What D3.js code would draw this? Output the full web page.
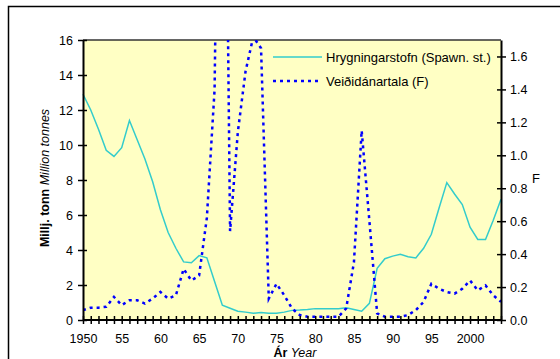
<!DOCTYPE html>
<html>
<head>
<meta charset="utf-8">
<script src="https://cdn.jsdelivr.net/npm/d3@7"></script>
<style>
  html, body { margin: 0; padding: 0; background: #ffffff; }
  svg { display: block; font-family: "Liberation Sans", Arial, sans-serif; }
</style>
</head>
<body>
<svg id="chart" width="560" height="359"></svg>
<script>
// Spawning stock (million tonnes) and fishing mortality F, 1950–2004
const years = d3.range(1950, 2005);
const spawningStock = [
  12.9, 12.0, 10.9, 9.7, 9.35, 9.85, 11.4, 10.3, 9.2, 7.9,
  6.3, 5.0, 4.1, 3.32, 3.27, 3.68, 3.55, 2.2, 0.85, 0.67,
  0.5, 0.45, 0.38, 0.43, 0.38, 0.38, 0.45, 0.55, 0.57, 0.6,
  0.65, 0.65, 0.65, 0.65, 0.7, 0.6, 0.5, 0.95, 2.95, 3.5,
  3.65, 3.75, 3.62, 3.55, 4.1, 4.9, 6.4, 7.85, 7.2, 6.6,
  5.3, 4.6, 4.6, 5.7, 6.9
];
const fishingMortality = [
  0.06, 0.075, 0.075, 0.08, 0.14, 0.09, 0.12, 0.12, 0.10, 0.13,
  0.17, 0.13, 0.15, 0.31, 0.24, 0.27, 0.62, 1.40, 5.0, 0.54,
  1.14, 1.51, 1.72, 1.65, 0.13, 0.22, 0.15, 0.07, 0.03, 0.02,
  0.02, 0.02, 0.02, 0.02, 0.07, 0.35, 1.15, 0.60, 0.04, 0.02,
  0.02, 0.02, 0.03, 0.06, 0.11, 0.22, 0.19, 0.17, 0.16, 0.19,
  0.24, 0.18, 0.21, 0.15, 0.11
];
const xTickYears = [1950, 1955, 1960, 1965, 1970, 1975, 1980, 1985, 1990, 1995, 2000];
const xTickLabels = ["1950", "55", "60", "65", "70", "75", "80", "85", "90", "95", "2000"];
const leftTicks = [0, 2, 4, 6, 8, 10, 12, 14, 16];
const rightTicks = [0, 0.2, 0.4, 0.6, 0.8, 1.0, 1.2, 1.4, 1.6];
const seriesNames = ["Hrygningarstofn (Spawn. st.)", "Veiðidánartala (F)"];

const svg = d3.select("#chart");
const plot = { left: 83, right: 501, top: 40, bottom: 320 };

const x = d3.scaleLinear().domain([1950, 2004]).range([plot.left, plot.right]);
const yL = d3.scaleLinear().domain([0, 16]).range([plot.bottom, plot.top]);
const yR = d3.scaleLinear().domain([0, 1.7]).range([plot.bottom, plot.top]);

const teal = "#33CCCC";
const blue = "#0000FF";

// outer frame
svg.append("rect")
  .attr("x", 8.5).attr("y", 6.5).attr("width", 620).attr("height", 420)
  .attr("fill", "none").attr("stroke", "#000").attr("stroke-width", 1.5);

// plot area background
svg.append("rect")
  .attr("x", plot.left).attr("y", plot.top)
  .attr("width", plot.right - plot.left).attr("height", plot.bottom - plot.top)
  .attr("fill", "#FFFFC4");

svg.append("defs").append("clipPath").attr("id", "plotClip")
  .append("rect")
  .attr("x", plot.left).attr("y", plot.top)
  .attr("width", plot.right - plot.left).attr("height", plot.bottom - plot.top);

// top border of plot area
svg.append("line")
  .attr("x1", plot.left).attr("x2", plot.right)
  .attr("y1", plot.top).attr("y2", plot.top)
  .attr("stroke", "#333").attr("stroke-width", 1.5);

// spawning stock line
const ssbLine = d3.line().x((d, i) => x(years[i])).y(d => yL(d));
svg.append("path")
  .datum(spawningStock)
  .attr("d", ssbLine)
  .attr("fill", "none").attr("stroke", teal).attr("stroke-width", 1.5);

// fishing mortality line (dotted, clipped to plot area)
const fLine = d3.line().x((d, i) => x(years[i])).y(d => yR(d));
svg.append("path")
  .datum(fishingMortality)
  .attr("clip-path", "url(#plotClip)")
  .attr("d", fLine)
  .attr("fill", "none").attr("stroke", blue).attr("stroke-width", 2.5)
  .attr("stroke-dasharray", "3,4");

// axes
function styleAxis(g) {
  g.select(".domain").attr("stroke", "#000").attr("stroke-width", 2);
  g.selectAll(".tick line").attr("stroke", "#000").attr("stroke-width", 1.5);
  g.selectAll(".tick text")
    .attr("font-family", "Liberation Sans, Arial, sans-serif")
    .attr("font-size", "12.5px").attr("fill", "#000");
}

const axL = svg.append("g")
  .attr("transform", `translate(${plot.left},0)`)
  .call(d3.axisLeft(yL).tickValues(leftTicks).tickSize(5).tickSizeOuter(0).tickPadding(5)
    .tickFormat(d3.format("d")));
styleAxis(axL);
axL.selectAll(".tick line").attr("x1", 4);

const axR = svg.append("g")
  .attr("transform", `translate(${plot.right},0)`)
  .call(d3.axisRight(yR).tickValues(rightTicks).tickSize(5).tickSizeOuter(0).tickPadding(4)
    .tickFormat(d3.format(".1f")));
styleAxis(axR);
axR.selectAll(".tick line").attr("x1", -4);

const axB = svg.append("g")
  .attr("transform", `translate(0,${plot.bottom})`)
  .call(d3.axisBottom(x).tickValues(years).tickSize(4).tickSizeOuter(0).tickPadding(10)
    .tickFormat(d => {
      const k = xTickYears.indexOf(d);
      return k >= 0 ? xTickLabels[k] : "";
    }));
styleAxis(axB);
axB.selectAll(".tick line").attr("y1", -4);
axB.select(".domain").attr("d", `M${plot.left},0H${plot.right}`);

// axis titles
const yTitle = svg.append("text")
  .attr("transform", "translate(49,178) rotate(-90)")
  .attr("text-anchor", "middle")
  .attr("font-size", "12.5px").attr("fill", "#000");
yTitle.append("tspan").attr("font-weight", "bold").text("Millj. tonn");
yTitle.append("tspan").attr("font-style", "italic").text(" Million tonnes");

const xTitle = svg.append("text")
  .attr("x", 295).attr("y", 357)
  .attr("text-anchor", "middle")
  .attr("font-size", "12.5px").attr("fill", "#000");
xTitle.append("tspan").attr("font-weight", "bold").text("Ár");
xTitle.append("tspan").attr("font-style", "italic").text(" Year");

svg.append("text")
  .attr("x", 536).attr("y", 183)
  .attr("text-anchor", "middle")
  .attr("font-size", "13px").attr("fill", "#000")
  .text("F");

// legend
const legend = svg.append("g");
const legendRows = [
  { name: seriesNames[0], color: teal, width: 1.5, dash: null, y: 57 },
  { name: seriesNames[1], color: blue, width: 2.5, dash: "3,4", y: 81 }
];
legendRows.forEach(r => {
  legend.append("line")
    .attr("x1", 273).attr("x2", 322).attr("y1", r.y).attr("y2", r.y)
    .attr("stroke", r.color).attr("stroke-width", r.width)
    .attr("stroke-dasharray", r.dash);
  legend.append("text")
    .attr("x", 326).attr("y", r.y + 4.5)
    .attr("font-size", "13px").attr("fill", "#000")
    .text(r.name);
});
</script>
</body>
</html>
